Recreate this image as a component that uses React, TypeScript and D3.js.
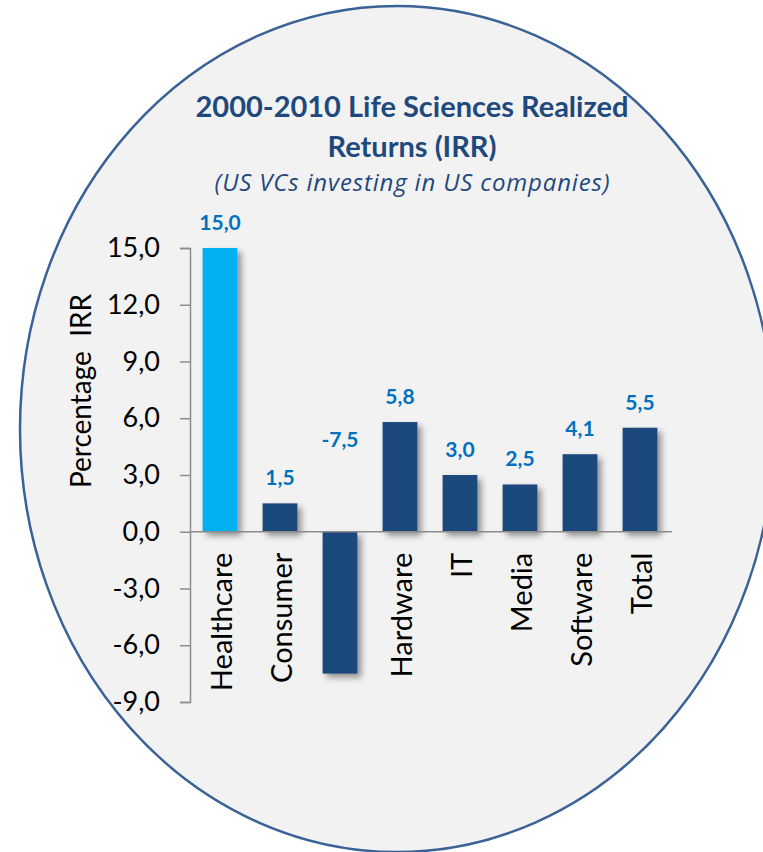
import * as d3 from "d3";
import { useEffect, useRef } from "react";

const categories = ["Healthcare", "Consumer", "", "Hardware", "IT", "Media", "Software", "Total"];
const irrValues = [15.0, 1.5, -7.5, 5.8, 3.0, 2.5, 4.1, 5.5];
const yTicks = [-9, -6, -3, 0, 3, 6, 9, 12, 15];
const titleLines = ["2000-2010 Life Sciences Realized", "Returns (IRR)"];
const subtitle = "(US VCs investing in US companies)";
const yAxisTitle = "Percentage  IRR";

export default function App() {
  const ref = useRef<SVGSVGElement>(null);

  useEffect(() => {
    const width = 763;
    const height = 852;
    const navy = "#1f497d";
    const labelBlue = "#0070c0";
    const axisGray = "#8c8c8c";
    const font = "Lato, 'Open Sans', sans-serif";

    d3.select(ref.current).selectAll("*").remove();

    const svg = d3
      .select(ref.current)
      .attr("width", width)
      .attr("height", height);

    const locale = d3.formatLocale({
      decimal: ",",
      thousands: ".",
      grouping: [3],
      currency: ["", ""],
      minus: "-",
    });
    const fmt = locale.format(".1f");

    // shadow behind the bars
    const defs = svg.append("defs");
    defs.append("filter")
      .attr("id", "barShadow")
      .attr("x", "-20%").attr("y", "-20%")
      .attr("width", "160%").attr("height", "160%")
      .append("feDropShadow")
      .attr("dx", 4).attr("dy", 4)
      .attr("stdDeviation", 3)
      .attr("flood-color", "#000")
      .attr("flood-opacity", 0.4);

    /* ---------------- BACKGROUND ELLIPSE ---------------- */
    svg.append("ellipse")
      .attr("cx", 397)
      .attr("cy", 429)
      .attr("rx", 377)
      .attr("ry", 423)
      .attr("fill", "#f2f2f2")
      .attr("stroke", "#3a6296")
      .attr("stroke-width", 2.5);

    /* ---------------- SCALES ---------------- */
    const x = d3.scaleBand<number>()
      .domain(d3.range(categories.length))
      .range([190, 670])
      .paddingInner(0.42)
      .paddingOuter(0.21);

    const y = d3.scaleLinear()
      .domain([-9, 15])
      .range([702, 248]);

    /* ---------------- TITLE ---------------- */
    svg.selectAll("text.title")
      .data(titleLines)
      .enter()
      .append("text")
      .attr("class", "title")
      .attr("x", 412)
      .attr("y", (_, i) => 117 + i * 40)
      .attr("text-anchor", "middle")
      .attr("font-family", font)
      .attr("font-weight", 700)
      .attr("font-size", 29)
      .attr("fill", navy)
      .text(d => d);

    svg.append("text")
      .attr("x", 412)
      .attr("y", 191)
      .attr("text-anchor", "middle")
      .attr("font-family", "'Open Sans', sans-serif")
      .attr("font-style", "italic")
      .attr("font-size", 24)
      .attr("textLength", 395)
      .attr("lengthAdjust", "spacing")
      .attr("fill", navy)
      .text(subtitle);

    /* ---------------- BARS ---------------- */
    svg.selectAll("rect.bar")
      .data(irrValues)
      .enter()
      .append("rect")
      .attr("class", "bar")
      .attr("x", (_, i) => x(i)!)
      .attr("y", d => y(Math.max(0, d)))
      .attr("width", x.bandwidth())
      .attr("height", d => Math.abs(y(d) - y(0)))
      .attr("fill", (_, i) => (i === 0 ? "#00b0f0" : navy))
      .attr("filter", "url(#barShadow)");

    /* ---------------- AXES ---------------- */
    const yAxis = svg.append("g")
      .attr("transform", "translate(190,0)")
      .call(
        d3.axisLeft(y)
          .tickValues(yTicks)
          .tickSize(10)
          .tickPadding(20)
          .tickFormat(d => fmt(d as number))
      );
    yAxis.select(".domain")
      .attr("stroke", axisGray)
      .attr("stroke-width", 1.5);
    yAxis.selectAll(".tick line")
      .attr("stroke", axisGray)
      .attr("stroke-width", 1.5);
    yAxis.selectAll(".tick text")
      .attr("font-family", font)
      .attr("font-size", 27)
      .attr("fill", "#000");

    svg.append("line")
      .attr("x1", 190)
      .attr("x2", 672)
      .attr("y1", y(0))
      .attr("y2", y(0))
      .attr("stroke", axisGray)
      .attr("stroke-width", 1.5);

    /* ---------------- CATEGORY LABELS ---------------- */
    svg.selectAll("text.cat")
      .data(categories)
      .enter()
      .append("text")
      .attr("class", "cat")
      .attr("transform", (_, i) => `translate(${x(i)! + x.bandwidth() / 2 + 12},${y(0) + 21}) rotate(-90)`)
      .attr("text-anchor", "end")
      .attr("font-family", font)
      .attr("font-size", 29)
      .attr("fill", "#000")
      .text(d => d);

    /* ---------------- VALUE LABELS ---------------- */
    svg.selectAll("text.value")
      .data(irrValues)
      .enter()
      .append("text")
      .attr("class", "value")
      .attr("x", (_, i) => x(i)! + x.bandwidth() / 2)
      .attr("y", d => (d >= 0 ? y(d) - 18 : y(0) - 85))
      .attr("text-anchor", "middle")
      .attr("font-family", font)
      .attr("font-weight", 700)
      .attr("font-size", 21)
      .attr("fill", labelBlue)
      .text(d => fmt(d));

    /* ---------------- Y TITLE ---------------- */
    svg.append("text")
      .attr("transform", "translate(91,391) rotate(-90)")
      .attr("text-anchor", "middle")
      .attr("font-family", font)
      .attr("font-size", 28)
      .attr("fill", "#000")
      .attr("xml:space", "preserve")
      .style("white-space", "pre")
      .text(yAxisTitle);
  }, []);

  return (
    <div>
      <svg ref={ref} style={{ position: "absolute", left: 0, top: 0 }} />
    </div>
  );
}
